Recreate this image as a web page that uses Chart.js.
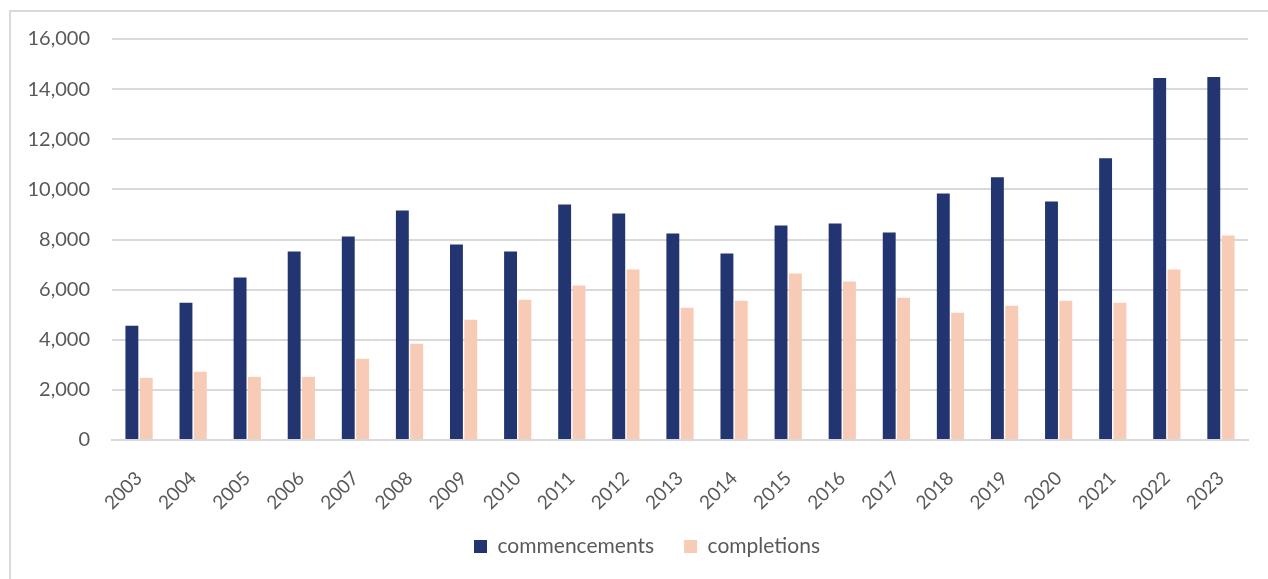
<!DOCTYPE html>
<html>
<head>
<meta charset="utf-8">
<script src="https://cdn.jsdelivr.net/npm/chart.js@4.4.1/dist/chart.umd.min.js"></script>
<style>
  html, body { margin: 0; padding: 0; background: #fff; }
  body { width: 1268px; height: 579px; position: relative; overflow: hidden; }
  #frame {
    position: absolute; left: 9px; top: 10px; width: 1300px; height: 600px;
    border-top: 2px solid #d9d9d9; border-left: 2px solid #d9d9d9;
  }
  #wrap { position: absolute; left: 0; top: 0; width: 1268px; height: 579px; }
</style>
</head>
<body>
<div id="frame"></div>
<div id="wrap"><canvas id="chart"></canvas></div>
<script>
// years on the x axis
const years = ['2003', '2004', '2005', '2006', '2007', '2008', '2009', '2010', '2011', '2012',
  '2013', '2014', '2015', '2016', '2017', '2018', '2019', '2020', '2021', '2022', '2023'];

// dwelling commencements per year
const commencements = [4560, 5480, 6480, 7520, 8120, 9160, 7800, 7520, 9400, 9040,
  8240, 7440, 8560, 8640, 8280, 9840, 10480, 9520, 11240, 14440, 14480];

// dwelling completions per year
const completions = [2480, 2720, 2520, 2520, 3240, 3840, 4800, 5600, 6160, 6800,
  5280, 5560, 6640, 6320, 5680, 5080, 5360, 5560, 5480, 6800, 8160];

const yMax = 16000;
const yStep = 2000;

// nudge the legend a little right and up, like the original
const legendShift = {
  id: 'legendShift',
  afterLayout(chart) {
    if (chart.legend) {
      chart.legend.left += 23;
      chart.legend.right += 23;
      chart.legend.top -= 6;
      chart.legend.bottom -= 6;
    }
  }
};

document.addEventListener('DOMContentLoaded', function() {
  const ctx = document.getElementById('chart');
  new Chart(ctx.getContext('2d'), {
    type: 'bar',
    data: {
      labels: years,
      datasets: [{
        label: 'commencements',
        data: commencements,
        backgroundColor: '#223571',
        barPercentage: 0.9,
        categoryPercentage: 0.53
      }, {
        label: 'completions',
        data: completions,
        backgroundColor: '#f8cbb6',
        barPercentage: 0.9,
        categoryPercentage: 0.53
      }]
    },
    plugins: [legendShift],
    options: {
      responsive: true,
      maintainAspectRatio: false,
      animation: false,
      layout: { padding: { top: 39, right: 20, left: 0, bottom: 6 } },
      plugins: {
        tooltip: { enabled: false },
        legend: {
          position: 'bottom',
          labels: {
            boxWidth: 13,
            boxHeight: 13,
            padding: 30,
            color: '#595959',
            font: { family: 'Lato', size: 21 }
          }
        }
      },
      scales: {
        x: {
          grid: { display: false, drawTicks: false },
          border: { display: true, color: '#d9d9d9', width: 2 },
          ticks: {
            color: '#595959',
            font: { family: 'Lato', size: 19 },
            minRotation: 45,
            maxRotation: 45,
            padding: 27
          },
          afterFit: scale => { scale.height = 72; }
        },
        y: {
          min: 0,
          max: yMax,
          grid: { color: '#d9d9d9', lineWidth: 2, drawTicks: false },
          border: { display: false },
          ticks: {
            stepSize: yStep,
            color: '#595959',
            font: { family: 'Lato', size: 20 },
            padding: 22,
            callback: v => v.toLocaleString('en-US')
          },
          afterFit: scale => { scale.width = 112; }
        }
      }
    }
  });
});
</script>
</body>
</html>
